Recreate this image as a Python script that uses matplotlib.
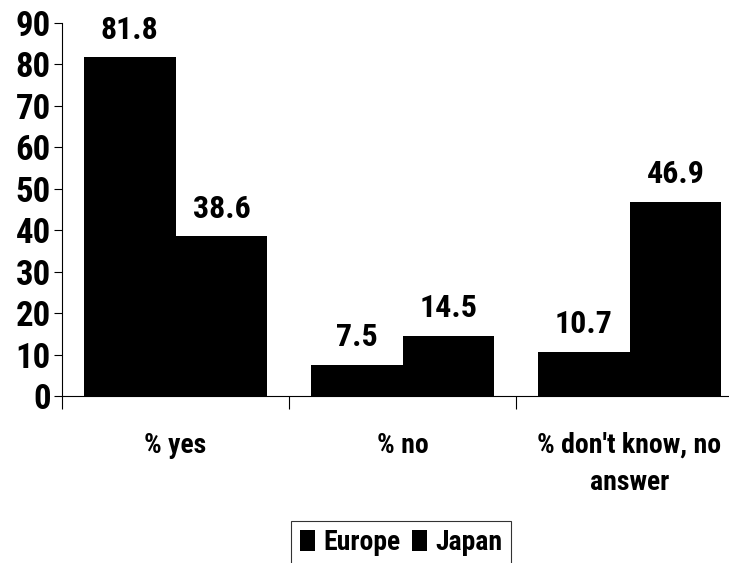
import matplotlib
matplotlib.use("Agg")
import matplotlib.pyplot as plt
import numpy as np
from matplotlib import font_manager

categories = ["% yes", "% no", "% don't know, no\nanswer"]
series_names = ["Europe", "Japan"]
europe = [81.8, 7.5, 10.7]
japan = [38.6, 14.5, 46.9]
yticks = list(range(0, 100, 10))

names = {f.name for f in font_manager.fontManager.ttflist}
fam = ["Roboto Condensed", "PT Sans Narrow", "Liberation Sans", "DejaVu Sans"]
fam = [f for f in fam if f in names] or ["DejaVu Sans"]
plt.rcParams['font.family'] = fam
plt.rcParams['font.weight'] = 'bold'

fig = plt.figure(figsize=(7.29, 5.63), dpi=100)
ax = fig.add_axes([62/729, 1-396/563, (743-62)/729, (396-23)/563])

x = np.arange(len(categories))
w = 0.405
b1 = ax.bar(x - w/2, europe, w, color="black", label=series_names[0])
b2 = ax.bar(x + w/2, japan, w, color="black", label=series_names[1])
for bars, vals in ((b1, europe), (b2, japan)):
    for r, v in zip(bars, vals):
        ax.text(r.get_x() + r.get_width()/2, v + 3.0, f"{v}", ha="center", va="bottom",
                fontsize=23, fontweight="bold")

ax.set_xlim(-0.5, 2.5)
ax.set_ylim(0, 90)
ax.set_yticks(yticks)
ax.set_yticklabels([str(t) for t in yticks], fontsize=25, fontweight="bold")
ax.tick_params(axis="y", length=6, width=0.8, pad=2)
ax.set_xticks([-0.5, 0.5, 1.5, 2.5])
ax.set_xticklabels([])
ax.tick_params(axis="x", which="major", length=9, width=0.8, direction="out")
ax.set_xticks(x, minor=True)
ax.set_xticklabels(categories, minor=True, fontsize=20, fontweight="bold", linespacing=1.45)
ax.tick_params(axis="x", which="minor", length=0, pad=26)
for s in ["top", "right"]:
    ax.spines[s].set_visible(False)
ax.spines["left"].set_linewidth(0.8)
ax.spines["bottom"].set_linewidth(0.8)

leg = ax.legend(loc="center", bbox_to_anchor=(401/729, 1-543/563), bbox_transform=fig.transFigure,
                ncol=2, frameon=True, fancybox=False, edgecolor="black",
                handlelength=0.55, handleheight=0.8, handletextpad=0.3, columnspacing=0.4,
                borderpad=0.3, prop={"weight": "bold", "size": 20})
leg.get_frame().set_linewidth(0.8)

fig.savefig("out.png", dpi=100)
